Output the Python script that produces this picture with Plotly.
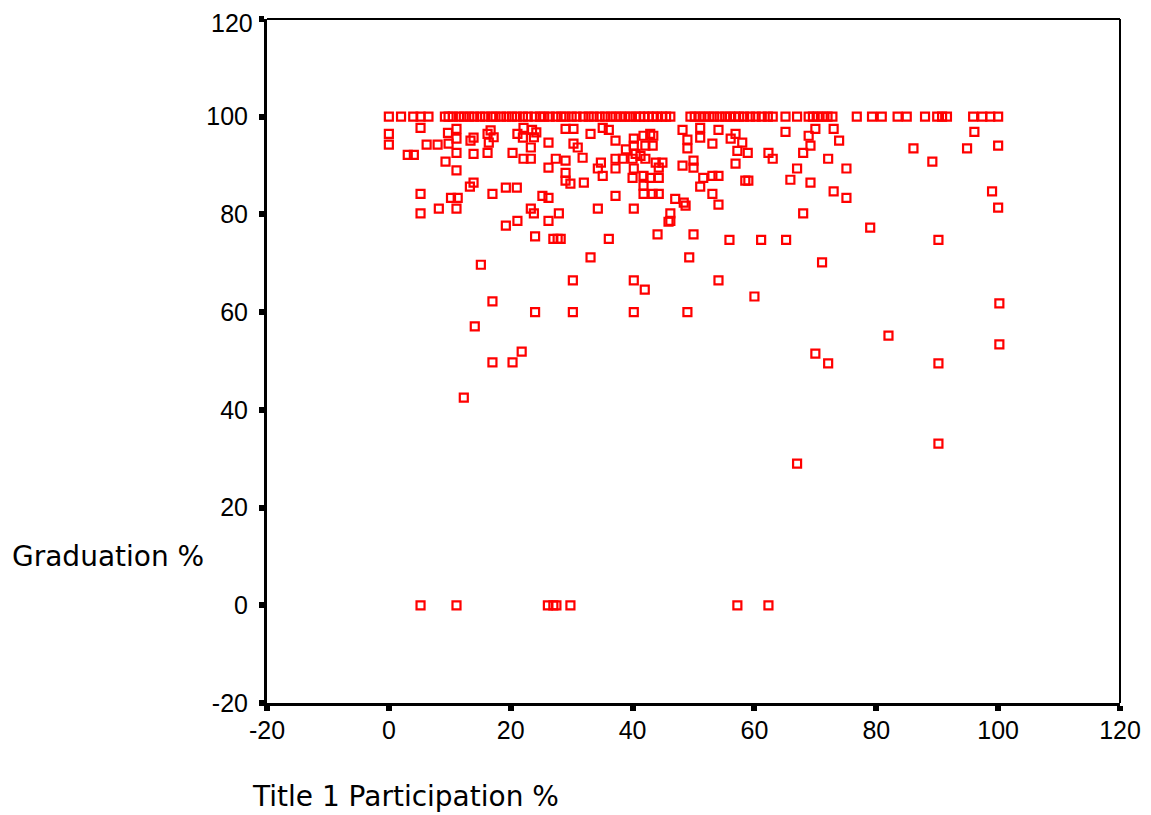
import plotly.graph_objects as go

# Points at Graduation = 100 (Title 1 Participation %)
top_x = [0, 2, 4, 5.2, 6.5, 9.2, 9.8, 10.5, 11.5, 12.3, 13.2, 14.0, 15.0, 15.8, 16.8, 17.5,
         18.4, 19.3, 20.2, 21.0, 22.0, 22.8, 23.9, 24.8, 25.5, 26.4, 27.4, 28.3, 29.0, 30.0,
         30.8, 31.9, 32.8, 33.6, 34.6, 35.5, 36.4, 37.2, 38.0, 38.8, 39.6, 40.5, 41.2, 41.9,
         42.6, 43.3, 44.0, 44.8, 45.5, 46.2, 49.5, 50.2, 51.0, 51.8, 52.6, 53.4, 54.3, 55.2,
         56.0, 56.8, 57.5, 58.3, 59.3, 60.2, 61.2, 62.2, 63.0, 65.1, 67.0, 68.9, 69.6, 70.4,
         71.2, 72.0, 72.8, 76.8, 79.3, 80.9, 83.5, 85.0, 88.0, 90.0, 90.8, 91.6, 95.9, 97.4,
         98.7, 100.0]

# Remaining schools (Title 1 %, Graduation %)
other_x = [0, 0, 5.2, 9.7, 11.1, 11.1, 13.4, 13.9, 16.2, 16.7, 17.2, 16.4, 6.2, 8.0, 9.8,
           3.1, 4.1, 11.1, 13.9, 16.2, 20.3, 21.1, 22.1, 23.5, 23.8, 24.2, 26.2, 22.0, 23.3,
           22.1, 23.3, 27.4, 29.0, 9.3, 11.1, 26.2, 29.0, 13.9, 13.3, 5.2, 17.0, 19.2, 21.0,
           10.2, 11.3, 25.2, 26.2, 29.0, 5.2, 8.2, 11.1, 23.3, 23.8, 26.2, 27.9, 19.2, 21.1,
           29.0, 30.3, 33.1, 35.1, 36.1, 37.2, 40.2, 41.8, 42.9, 43.4, 42.1, 43.3, 48.2, 51.1,
           51.1, 54.1, 53.1, 49.0, 49.0, 56.1, 56.9, 58.0, 57.2, 58.9, 30.3, 31.0, 31.8, 34.8,
           34.3, 35.1, 37.2, 38.4, 37.2, 38.9, 40.0, 40.2, 40.5, 41.3, 42.1, 43.8, 44.9, 40.2,
           40.0, 41.8, 42.9, 44.3, 44.3, 41.8, 41.8, 43.3, 44.3, 37.2, 29.8, 32.0, 47.0, 48.4,
           48.7, 46.2, 46.2, 34.3, 40.2, 48.2, 50.0, 50.0, 51.6, 53.1, 54.1, 51.1, 53.1, 54.1,
           56.9, 58.5, 59.0,
           65.1, 68.9, 70.0, 73.0, 73.9, 69.2, 68.0, 62.3, 63.0, 72.1, 67.0, 75.1, 65.9, 69.2,
           73.0, 75.1, 68.0, 79.0, 86.1, 89.2, 96.1, 94.9, 100.0, 99.0, 100.0,
           24.0, 27.0, 27.7, 28.2, 36.1, 44.1, 50.0, 45.9, 33.1, 49.3, 15.1, 30.2, 40.2, 42.0,
           17.0, 24.0, 30.2, 40.2, 49.0, 14.1, 21.8, 17.0, 20.3, 12.3,
           55.9, 61.1, 65.2, 90.2, 71.1, 54.1, 60.0, 100.2, 82.0, 100.2, 70.0, 72.1, 90.2, 90.2,
           67.0,
           5.2, 11.1, 26.1, 27.0, 27.5, 29.8, 57.2, 62.3]
other_y = [96.5, 94.3, 97.7, 96.7, 97.5, 95.5, 95.1, 95.7, 96.5, 97.2, 95.8, 94.7, 94.3, 94.3, 94.5,
           92.2, 92.2, 92.6, 92.4, 92.6, 92.6, 96.5, 97.7, 97.3, 95.8, 96.8, 94.7, 95.7, 93.7,
           91.4, 91.4, 91.4, 91.0, 90.8, 89.0, 89.6, 88.5, 86.5, 85.7, 84.2, 84.2, 85.5, 85.5,
           83.4, 83.4, 83.8, 83.4, 86.9, 80.2, 81.2, 81.2, 81.2, 80.2, 78.7, 80.2, 77.7, 78.7,
           97.5, 97.5, 96.5, 97.7, 97.3, 95.1, 95.5, 96.1, 96.5, 96.1, 94.1, 94.1, 97.3, 97.7,
           95.7, 97.3, 94.5, 95.3, 93.5, 95.5, 96.5, 94.7, 93.0, 92.6, 94.5, 93.7, 91.6, 90.6,
           89.4, 87.9, 91.4, 91.4, 89.4, 93.3, 91.4, 94.1, 92.4, 92.0, 91.4, 90.6, 90.6, 89.4,
           87.5, 87.9, 87.5, 89.6, 87.5, 85.9, 84.2, 84.2, 84.2, 83.8, 86.3, 86.5, 83.2, 82.4,
           81.8, 80.2, 78.7, 81.2, 81.2, 90.0, 91.0, 89.6, 87.5, 87.9, 87.9, 85.7, 84.2, 82.0,
           90.4, 86.9, 86.9,
           96.9, 96.1, 97.5, 97.5, 95.1, 94.1, 92.6, 92.6, 91.4, 91.4, 89.4, 89.4, 87.1, 86.5,
           84.7, 83.4, 80.2, 77.3, 93.5, 90.8, 96.9, 93.5, 94.1, 84.7, 81.4,
           75.5, 75.0, 75.0, 75.0, 75.0, 75.9, 75.9, 78.5, 71.2, 71.2, 69.7, 66.5, 66.5, 64.6,
           62.2, 60.0, 60.0, 60.0, 60.0, 57.1, 51.9, 49.7, 49.7, 42.5,
           74.8, 74.8, 74.8, 74.8, 70.2, 66.5, 63.2, 61.8, 55.2, 53.4, 51.5, 49.5, 49.5, 33.1,
           29.0,
           0, 0, 0, 0, 0, 0, 0, 0]

x_vals = top_x + other_x
y_vals = [100.0] * len(top_x) + other_y

tick_vals = [-20, 0, 20, 40, 60, 80, 100, 120]
tick_text = ["-20", "0", "20", "40", "60", "80", "100", "120"]

fig = go.Figure()
fig.add_trace(go.Scatter(
    x=x_vals, y=y_vals, mode="markers",
    marker=dict(symbol="square-open", size=8, color="#ff0000",
                line=dict(color="#ff0000", width=2.2)),
    showlegend=False, hoverinfo="x+y",
))

tick_font = dict(family="Liberation Sans, Arial, sans-serif", size=25, color="black")
axis_common = dict(
    showgrid=False, zeroline=False,
    showline=True, linecolor="black", linewidth=3, mirror=False,
    ticks="outside", ticklen=5, tickwidth=6, tickcolor="black",
    tickvals=tick_vals,
    tickfont=tick_font,
    automargin=False,
)

fig.update_xaxes(range=[-20, 120], ticktext=tick_text, ticklabelstandoff=-2, **axis_common)
# the top y label (120) sits at the very page edge, so it is drawn as an annotation below
y_text = tick_text[:-1] + [""]
fig.update_yaxes(range=[-20, 120], ticktext=y_text, ticklabelstandoff=6, **axis_common)

fig.add_annotation(text=tick_text[-1], xref="paper", yref="y",
                   x=0, y=tick_vals[-1], xanchor="right", yanchor="middle",
                   xshift=-13, yshift=-4, borderpad=0, showarrow=False, font=tick_font)

# thinner top and right frame lines
fig.add_shape(type="line", xref="paper", yref="paper", x0=0, x1=1, y0=1, y1=1,
              line=dict(color="black", width=2))
fig.add_shape(type="line", xref="paper", yref="paper", x0=1, x1=1, y0=0, y1=1,
              line=dict(color="black", width=2))

fig.add_annotation(text="Graduation %", xref="paper", yref="paper",
                   x=-0.3013, y=0.2142, xanchor="left", yanchor="middle",
                   showarrow=False,
                   font=dict(family="DejaVu Sans, Verdana, sans-serif", size=28, color="black"))
fig.add_annotation(text="Title 1 Participation %", xref="paper", yref="paper",
                   x=-0.0199, y=-0.1367, xanchor="left", yanchor="middle",
                   showarrow=False,
                   font=dict(family="DejaVu Sans, Verdana, sans-serif", size=28, color="black"))

fig.update_layout(
    width=1143, height=807,
    margin=dict(l=259, r=31, t=11, b=112),
    plot_bgcolor="white", paper_bgcolor="white",
)

fig.write_html("out.html")
